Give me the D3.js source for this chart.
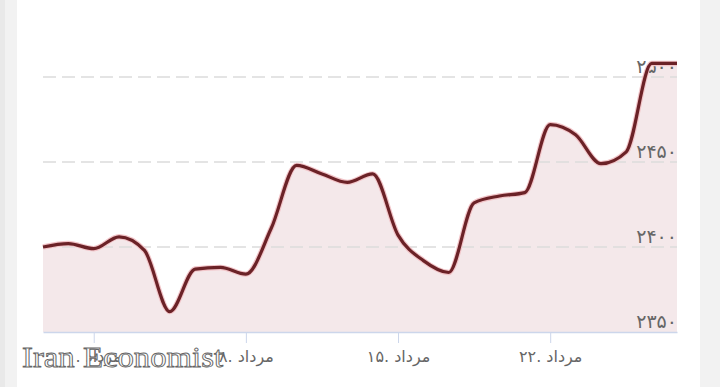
<!DOCTYPE html>
<html>
<head>
<meta charset="utf-8">
<script src="https://cdn.jsdelivr.net/npm/d3@7"></script>
<style>
   html, body { margin: 0; padding: 0; background: #f2f2f2; }
   svg { display: block; }
   .label { font-family: "DejaVu Sans", sans-serif; fill: #666; }
</style>
</head>
<body>
<div id="mainChart"></div>
<script>

// Points in order, Fridays skipped (6 per week)
const days = ["۳۰ تیر", "۳۱ تیر", "۱ مرداد", "۲ مرداد", "۳ مرداد", "۴ مرداد",
   "۶ مرداد", "۷ مرداد", "۸ مرداد", "۹ مرداد", "۱۰ مرداد", "۱۱ مرداد",
   "۱۳ مرداد", "۱۴ مرداد", "۱۵ مرداد", "۱۶ مرداد", "۱۷ مرداد", "۱۸ مرداد",
   "۲۰ مرداد", "۲۱ مرداد", "۲۲ مرداد", "۲۳ مرداد", "۲۴ مرداد", "۲۵ مرداد",
   "۲۷ مرداد", "۲۸ مرداد"]
const values = [2400, 2402, 2399, 2406, 2398, 2362, 2387, 2388, 2384, 2411,
   2448, 2443, 2438, 2443, 2407, 2392, 2385, 2426, 2430, 2432,
   2472, 2466, 2449, 2456, 2508, 2508]

// x axis ticks (index into days) and their labels
const tickIndex = [2, 8, 14, 20]
const tickLabels = ["۱. مرداد", "۸. مرداد", "۱۵. مرداد", "۲۲. مرداد"]

// y axis
const yTicks = [2350, 2400, 2450, 2500]
const yTickLabels = ["۲۳۵۰", "۲۴۰۰", "۲۴۵۰", "۲۵۰۰"]

const W = 720, H = 387
const margin = { top: 60, right: 43, bottom: 55, left: 43 }
const width = W - margin.left - margin.right
const height = H - margin.top - margin.bottom

const data = values.map((v, i) => ({ i: i, value: v }))

let svg = d3.select("#mainChart").append("svg")
   .attr("width", W)
   .attr("height", H)

// card backgrounds
svg.append("rect").attr("x", 0).attr("y", 0).attr("width", 5).attr("height", H).attr("fill", "#e9e9e9")
svg.append("rect").attr("x", 17).attr("y", 0).attr("width", 683).attr("height", H).attr("fill", "#fff")

let g = svg.append("g")
   .attr("transform", "translate(" + margin.left + "," + margin.top + ")")

let x = d3.scaleLinear()
   .domain([0, values.length - 1])
   .range([0, width])

let y = d3.scaleLinear()
   .domain([2350, 2510])
   .range([height, 0])

// area under the line
let area = d3.area()
   .x(function (d) { return x(d.i) })
   .y0(height)
   .y1(function (d) { return y(d.value) })
   .curve(d3.curveMonotoneX)

let line = d3.line()
   .x(function (d) { return x(d.i) })
   .y(function (d) { return y(d.value) })
   .curve(d3.curveMonotoneX)

g.append("path")
   .attr("d", area(data))
   .attr("fill", "#f4e8ea")

// horizontal grid lines
g.selectAll("line.grid").data(yTicks.slice(1))
   .join("line")
   .attr("class", "grid")
   .attr("x1", 0)
   .attr("x2", width)
   .attr("y1", function (d) { return y(d) })
   .attr("y2", function (d) { return y(d) })
   .attr("stroke", "#dcdcdc")
   .attr("stroke-width", 1.5)
   .attr("stroke-dasharray", "13 6")

// y labels, right aligned above grid lines
g.selectAll("text.ylab").data(yTicks)
   .join("text")
   .attr("class", "label ylab")
   .attr("x", width)
   .attr("y", function (d) { return y(d) - 4 })
   .attr("text-anchor", "end")
   .style("font-size", "19px")
   .text(function (d, i) { return yTickLabels[i] })

// x axis
let xAxis = d3.axisBottom(x)
   .tickValues(tickIndex)
   .tickSize(11)
   .tickSizeOuter(0)
   .tickFormat(function (d, i) { return tickLabels[i] })

let horizontalAxis = g.append("g")
   .attr("transform", "translate(0," + height + ")")
   .call(xAxis)

horizontalAxis.select(".domain").attr("stroke", "#ccd6eb").attr("stroke-width", 1.5)
horizontalAxis.selectAll(".tick line").attr("stroke", "#ccd6eb")
horizontalAxis.selectAll(".tick text")
   .attr("class", "label")
   .attr("y", 19)
   .attr("direction", "ltr")
   .style("font-size", "16px")

// main line
g.append("path")
   .attr("d", line(data))
   .attr("fill", "none")
   .attr("stroke", "#f2c5c9")
   .attr("stroke-width", 5.5)
g.append("path")
   .attr("d", line(data))
   .attr("fill", "none")
   .attr("stroke", "#6b2227")
   .attr("stroke-width", 3.2)

// watermark
svg.append("text")
   .attr("x", 22)
   .attr("y", 367)
   .attr("textLength", 201)
   .attr("lengthAdjust", "spacingAndGlyphs")
   .style("font-family", "'Liberation Serif', serif")
   .style("font-size", "30px")
   .attr("fill", "#fff")
   .attr("stroke", "#666")
   .attr("stroke-width", 0.9)
   .text("Iran Economist")

</script>
</body>
</html>
